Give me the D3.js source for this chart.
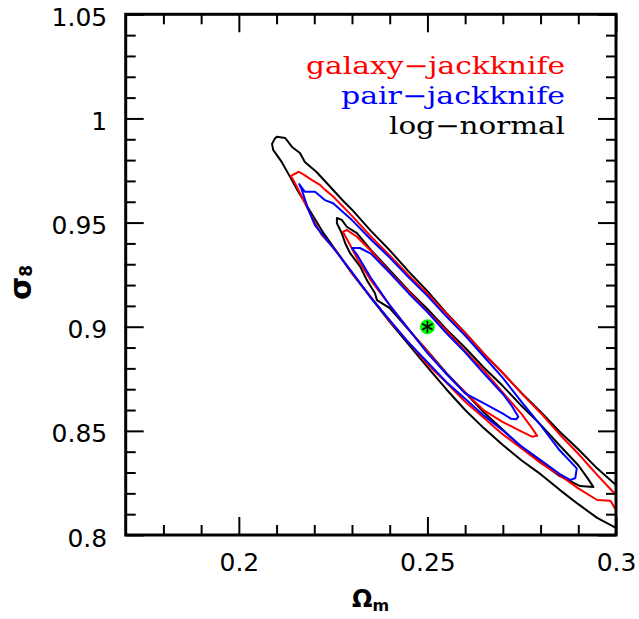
<!DOCTYPE html>
<html>
<head>
<meta charset="utf-8">
<script src="https://cdn.jsdelivr.net/npm/d3@7"></script>
<style>
  body { margin: 0; background: #fff; }
</style>
</head>
<body>
<script>
// axis ticks and labels
var xMajor = [0.2, 0.25, 0.3];
var xMajorLabels = ["0.2", "0.25", "0.3"];
var xMinor = [0.18, 0.19, 0.21, 0.22, 0.23, 0.24, 0.26, 0.27, 0.28, 0.29];
var yMajor = [0.8, 0.85, 0.9, 0.95, 1.0, 1.05];
var yMajorLabels = ["0.8", "0.85", "0.9", "0.95", "1", "1.05"];
var yMinor = [0.81, 0.82, 0.83, 0.84, 0.86, 0.87, 0.88, 0.89, 0.91, 0.92, 0.93, 0.94,
              0.96, 0.97, 0.98, 0.99, 1.01, 1.02, 1.03, 1.04];

// fiducial model (Omega_m, sigma_8)
var fiducial = [0.25, 0.9];

// legend
var seriesNames = ["galaxy\u2212jackknife", "pair\u2212jackknife", "log\u2212normal"];
var seriesColors = ["#ff0000", "#0000ff", "#000000"];

// contour outlines, [Omega_m, sigma_8]; outer = 95%, inner = 68%
var lognormalOuter = [
  [0.2088,0.9878],[0.2095,0.9902],[0.2101,0.9912],[0.2123,0.9906],[0.2141,0.9863],
  [0.2162,0.9834],[0.2175,0.9791],[0.2206,0.9743],[0.2233,0.9690],[0.2275,0.9607],
  [0.2300,0.9562],[0.2350,0.9460],[0.2400,0.9367],[0.2450,0.9266],[0.2500,0.9171],
  [0.2550,0.9066],[0.2600,0.8971],[0.2650,0.8869],[0.2700,0.8777],[0.2750,0.8681],
  [0.2800,0.8592],[0.2850,0.8497],[0.2900,0.8412],[0.2950,0.8320],[0.3000,0.8240],
  [0.3050,0.8149],[0.3100,0.8031],[0.3120,0.7950],
  [0.3100,0.7905],[0.3050,0.7962],[0.3000,0.8034],[0.2950,0.8082],[0.2900,0.8148],
  [0.2850,0.8218],[0.2800,0.8292],[0.2750,0.8358],[0.2700,0.8432],[0.2650,0.8512],
  [0.2600,0.8600],[0.2550,0.8700],[0.2500,0.8806],[0.2450,0.8915],[0.2400,0.9023],
  [0.2350,0.9140],[0.2300,0.9256],[0.2250,0.9385],[0.2225,0.9448],[0.2200,0.9522],
  [0.2175,0.9596],[0.2153,0.9663],[0.2131,0.9735],[0.2114,0.9790],[0.2091,0.9849]
];
var galaxyOuter = [
  [0.2138,0.9724],[0.2159,0.9744],[0.2175,0.9727],[0.2193,0.9705],[0.2215,0.9681],
  [0.2229,0.9657],[0.2250,0.9625],[0.2300,0.9532],[0.2350,0.9433],[0.2400,0.9342],
  [0.2450,0.9247],[0.2500,0.9159],[0.2550,0.9062],[0.2600,0.8970],[0.2650,0.8871],
  [0.2700,0.8778],[0.2750,0.8679],[0.2800,0.8586],[0.2850,0.8484],[0.2900,0.8390],
  [0.2950,0.8289],[0.3000,0.8192],[0.3040,0.8094],[0.3058,0.8055],
  [0.3040,0.8061],[0.3005,0.8105],[0.2985,0.8165],[0.2950,0.8168],[0.2900,0.8224],
  [0.2850,0.8288],[0.2800,0.8346],[0.2750,0.8415],[0.2700,0.8483],[0.2650,0.8562],
  [0.2600,0.8640],[0.2550,0.8732],[0.2500,0.8820],[0.2450,0.8925],[0.2400,0.9027],
  [0.2350,0.9143],[0.2300,0.9257],[0.2255,0.9371],[0.2220,0.9440],[0.2202,0.9497],
  [0.2184,0.9561],[0.2167,0.9624],[0.2149,0.9689]
];
var pairOuter = [
  [0.2160,0.9685],[0.2175,0.9648],[0.2202,0.9648],[0.2228,0.9608],[0.2250,0.9593],
  [0.2300,0.9512],[0.2350,0.9419],[0.2400,0.9332],[0.2450,0.9237],[0.2500,0.9148],
  [0.2550,0.9050],[0.2600,0.8957],[0.2650,0.8856],[0.2700,0.8754],[0.2750,0.8638],
  [0.2800,0.8527],[0.2850,0.8408],[0.2896,0.8320],[0.2892,0.8273],[0.2879,0.8264],
  [0.2850,0.8294],[0.2800,0.8360],[0.2750,0.8424],[0.2700,0.8502],[0.2650,0.8573],
  [0.2600,0.8654],[0.2550,0.8735],[0.2500,0.8830],[0.2450,0.8924],[0.2400,0.9032],
  [0.2350,0.9139],[0.2300,0.9262],[0.2255,0.9368],[0.2202,0.9487],[0.2184,0.9563],
  [0.2167,0.9657]
];
var lognormalInner = [
  [0.2260,0.9522],[0.2273,0.9513],[0.2286,0.9480],[0.2313,0.9449],[0.2350,0.9369],
  [0.2400,0.9272],[0.2450,0.9174],[0.2500,0.9085],[0.2550,0.8988],[0.2600,0.8899],
  [0.2650,0.8803],[0.2700,0.8715],[0.2750,0.8619],[0.2800,0.8530],[0.2850,0.8431],
  [0.2900,0.8335],[0.2925,0.8272],[0.2940,0.8231],[0.2905,0.8235],
  [0.2850,0.8284],[0.2800,0.8350],[0.2750,0.8421],[0.2700,0.8505],[0.2650,0.8588],
  [0.2600,0.8684],[0.2550,0.8778],[0.2500,0.8884],[0.2450,0.8986],[0.2400,0.9089],
  [0.2366,0.9128],[0.2361,0.9161],[0.2339,0.9225],[0.2322,0.9288],[0.2295,0.9353],
  [0.2282,0.9401],[0.2273,0.9449],[0.2260,0.9497]
];
var galaxyInner = [
  [0.2276,0.9455],[0.2286,0.9465],[0.2313,0.9432],[0.2350,0.9365],[0.2400,0.9263],
  [0.2450,0.9171],[0.2500,0.9073],[0.2550,0.8982],[0.2600,0.8883],[0.2650,0.8789],
  [0.2700,0.8683],[0.2750,0.8580],[0.2780,0.8506],[0.2791,0.8476],[0.2777,0.8472],
  [0.2750,0.8496],[0.2700,0.8542],[0.2650,0.8598],[0.2600,0.8684],[0.2550,0.8775],
  [0.2500,0.8882],[0.2450,0.8987],[0.2400,0.9104],[0.2350,0.9223],[0.2315,0.9323],
  [0.2290,0.9409]
];
var pairInner = [
  [0.2300,0.9378],[0.2321,0.9378],[0.2350,0.9351],[0.2400,0.9259],[0.2450,0.9161],
  [0.2500,0.9070],[0.2550,0.8970],[0.2600,0.8877],[0.2650,0.8775],[0.2700,0.8677],
  [0.2725,0.8616],[0.2741,0.8568],[0.2736,0.8556],[0.2722,0.8558],
  [0.2700,0.8583],[0.2650,0.8632],[0.2600,0.8680],[0.2550,0.8774],[0.2500,0.8873],
  [0.2450,0.8988],[0.2400,0.9103],[0.2350,0.9235],[0.2315,0.9341]
];

var contours = [
  { pts: lognormalOuter, color: seriesColors[2] },
  { pts: lognormalInner, color: seriesColors[2] },
  { pts: galaxyOuter, color: seriesColors[0] },
  { pts: galaxyInner, color: seriesColors[0] },
  { pts: pairOuter, color: seriesColors[1] },
  { pts: pairInner, color: seriesColors[1] }
];

var width = 639, height = 619;
var plotLeft = 125.7, plotRight = 616, plotTop = 14.3, plotBottom = 535;

var x = d3.scaleLinear().domain([0.17, 0.3]).range([plotLeft, plotRight]);
var y = d3.scaleLinear().domain([0.8, 1.05]).range([plotBottom, plotTop]);

var svg = d3.select("body").append("svg")
  .attr("width", width)
  .attr("height", height);

svg.append("clipPath").attr("id", "plotclip")
  .append("rect")
  .attr("x", plotLeft).attr("y", plotTop)
  .attr("width", plotRight - plotLeft).attr("height", plotBottom - plotTop);

var line = d3.line()
  .x(function(d) { return x(d[0]); })
  .y(function(d) { return y(d[1]); })
  .curve(d3.curveLinearClosed);

svg.append("g").attr("clip-path", "url(#plotclip)")
  .selectAll("path")
  .data(contours)
  .enter()
  .append("path")
  .attr("d", function(d) { return line(d.pts); })
  .attr("fill", "none")
  .attr("stroke", function(d) { return d.color; })
  .attr("stroke-width", 2)
  .attr("stroke-linejoin", "round");

// fiducial point
var fx = x(fiducial[0]), fy = y(fiducial[1]);
svg.append("circle")
  .attr("cx", fx).attr("cy", fy).attr("r", 7.5)
  .attr("fill", "#00ff00");
[90, 30, 150].forEach(function(a) {
  var r = a * Math.PI / 180, l = 6;
  svg.append("line")
    .attr("x1", fx - l * Math.cos(r)).attr("y1", fy - l * Math.sin(r))
    .attr("x2", fx + l * Math.cos(r)).attr("y2", fy + l * Math.sin(r))
    .attr("stroke", "#000").attr("stroke-width", 1.6);
});

// axes, ticks pointing inward on all four sides
function styleAxis(g) {
  g.select(".domain").remove();
  g.selectAll(".tick line").attr("stroke", "#000").attr("stroke-width", 2);
  g.selectAll("text")
    .attr("fill", "#000")
    .style("font-family", "'DejaVu Sans', sans-serif")
    .style("font-size", "25px");
}

svg.append("g").attr("transform", "translate(0," + plotBottom + ")")
  .call(d3.axisBottom(x).tickValues(xMinor).tickSize(-10).tickFormat(""))
  .call(styleAxis);
svg.append("g").attr("transform", "translate(0," + plotBottom + ")")
  .call(d3.axisBottom(x).tickValues(xMajor).tickSize(-18).tickPadding(18)
    .tickFormat(function(d, i) { return xMajorLabels[i]; }))
  .call(styleAxis);
svg.append("g").attr("transform", "translate(0," + plotTop + ")")
  .call(d3.axisTop(x).tickValues(xMinor).tickSize(-10).tickFormat(""))
  .call(styleAxis);
svg.append("g").attr("transform", "translate(0," + plotTop + ")")
  .call(d3.axisTop(x).tickValues(xMajor).tickSize(-18).tickFormat(""))
  .call(styleAxis);

svg.append("g").attr("transform", "translate(" + plotLeft + ",0)")
  .call(d3.axisLeft(y).tickValues(yMinor).tickSize(-10).tickFormat(""))
  .call(styleAxis);
svg.append("g").attr("transform", "translate(" + plotLeft + ",0)")
  .call(d3.axisLeft(y).tickValues(yMajor).tickSize(-18).tickPadding(18.5)
    .tickFormat(function(d, i) { return yMajorLabels[i]; }))
  .call(styleAxis)
  .selectAll("text").attr("dy", "0.44em");
svg.append("g").attr("transform", "translate(" + plotRight + ",0)")
  .call(d3.axisRight(y).tickValues(yMinor).tickSize(-10).tickFormat(""))
  .call(styleAxis);
svg.append("g").attr("transform", "translate(" + plotRight + ",0)")
  .call(d3.axisRight(y).tickValues(yMajor).tickSize(-18).tickFormat(""))
  .call(styleAxis);

// frame
svg.append("rect")
  .attr("x", plotLeft).attr("y", plotTop)
  .attr("width", plotRight - plotLeft).attr("height", plotBottom - plotTop)
  .attr("fill", "none").attr("stroke", "#000").attr("stroke-width", 3);

// legend
var legendRight = 565;
var legendWidths = [259, 224, 176];
var legendBase = [74, 104, 134];
svg.append("g").selectAll("text")
  .data(seriesNames)
  .enter()
  .append("text")
  .attr("x", function(d, i) { return legendRight - legendWidths[i]; })
  .attr("y", function(d, i) { return legendBase[i]; })
  .attr("textLength", function(d, i) { return legendWidths[i]; })
  .attr("lengthAdjust", "spacingAndGlyphs")
  .attr("fill", function(d, i) { return seriesColors[i]; })
  .style("font-family", "'DejaVu Serif', serif")
  .style("font-size", "24px")
  .text(function(d) { return d; });

// axis titles
var xt = svg.append("text")
  .attr("x", 352).attr("y", 607)
  .style("font-family", "'DejaVu Sans', sans-serif")
  .style("font-weight", "bold");
xt.append("tspan").style("font-size", "24px").text("\u03A9");
xt.append("tspan").style("font-size", "16px").attr("dy", 4).text("m");

var yt = svg.append("text")
  .attr("transform", "translate(31,300) rotate(-90)")
  .style("font-family", "'DejaVu Sans', sans-serif")
  .style("font-weight", "bold");
yt.append("tspan").style("font-size", "30px").text("\u03C3");
yt.append("tspan").style("font-size", "17px").attr("dy", 1).text("8");
</script>
</body>
</html>
